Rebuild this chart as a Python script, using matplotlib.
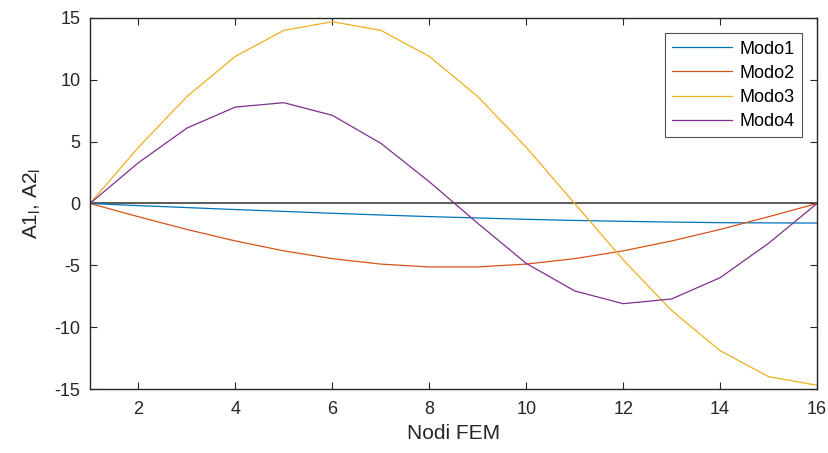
import numpy as np
import matplotlib
matplotlib.use('Agg')
import matplotlib.pyplot as plt

plt.rcParams['font.family'] = ['Liberation Sans', 'DejaVu Sans']
plt.rcParams['mathtext.default'] = 'regular'
plt.rcParams['axes.unicode_minus'] = False

nodi = list(range(1, 17))
modo1 = [0, -0.17, -0.33, -0.49, -0.64, -0.79, -0.93, -1.06, -1.17, -1.28, -1.37, -1.44, -1.50, -1.55, -1.57, -1.58]
modo2 = [0, -1.07, -2.10, -3.03, -3.83, -4.46, -4.90, -5.13, -5.13, -4.90, -4.46, -3.83, -3.03, -2.10, -1.07, 0]
modo3 = [0, 4.55, 8.65, 11.9, 14.0, 14.7, 14.0, 11.9, 8.65, 4.55, 0, -4.55, -8.65, -11.9, -14.0, -14.7]
modo4 = [0, 3.3, 6.1, 7.8, 8.15, 7.13, 4.87, 1.76, -1.6, -4.84, -7.07, -8.1, -7.72, -6.0, -3.22, 0]

labels = ['Modo1', 'Modo2', 'Modo3', 'Modo4']
colori = ['#0072BD', '#D95319', '#EDB120', '#7E2F8E']

fig = plt.figure(figsize=(8.29, 4.53), dpi=100)
ax = fig.add_axes([90/829, 1-389/453, 727/829, 371/453])

for y, lab, c in zip([modo1, modo2, modo3, modo4], labels, colori):
    ax.plot(nodi, y, color=c, lw=0.9, label=lab)
ax.axhline(0, color='#404040', lw=1.2, zorder=1)

ax.set_xlim(1, 16)
ax.set_ylim(-15, 15)
ax.set_xticks(range(2, 17, 2))
ax.set_yticks(range(-15, 16, 5))
ax.tick_params(direction='in', top=True, right=True, labelsize=13, colors='#262626', length=5)
ax.tick_params(axis='x', pad=9)
ax.tick_params(axis='y', pad=7)
for s in ax.spines.values():
    s.set_color('#262626')
    s.set_linewidth(1.0)
ax.set_xlabel('Nodi FEM', fontsize=15, color='#262626', labelpad=4)
ax.set_ylabel('A1$_l$, A2$_l$', fontsize=15, color='#262626', labelpad=8)

leg = ax.legend(loc='upper right', fontsize=13, fancybox=False, edgecolor='#262626',
                handlelength=3.3, borderaxespad=0.85, labelspacing=0.4,
                handletextpad=0.4, borderpad=0.4)
leg.get_frame().set_linewidth(0.8)

fig.savefig('out.png', dpi=100)
